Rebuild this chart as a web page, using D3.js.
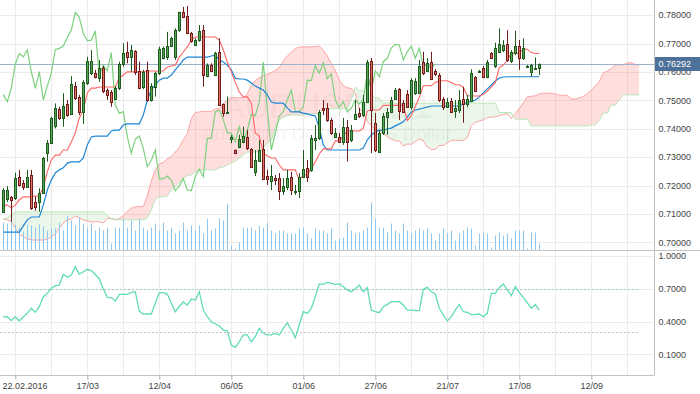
<!DOCTYPE html>
<html><head><meta charset="utf-8">
<script src="https://cdn.jsdelivr.net/npm/d3@7/dist/d3.min.js"></script>
<style>
html,body{margin:0;padding:0;background:#fff;}
svg{display:block;}
</style></head><body>
<svg id="chart" width="700" height="394"></svg>
<script>
// ---------- DATA (AUDUSD, D1) ----------
const opens=[.7108,.7152,.7159,.7155,.7231,.7208,.7196,.7237,.7143,.7141,
.7175,.7313,.7351,.7409,.7468,.7437,.7486,.7451,.7550,.7510,
.7460,.7560,.7595,.7597,.7577,.7615,.7536,.7530,.7503,.7542,
.7628,.7671,.7653,.7675,.7604,.7546,.7607,.7501,.7548,.7595,
.7648,.7651,.7691,.7651,.7747,.7812,.7797,.7736,.7695,.7712,
.7747,.7585,.7624,.7589,.7671,.7486,.7454,.7363,.7325,.7335,
.7354,.7371,.7327,.7246,.7286,.7329,.7233,.7216,.7226,.7225,
.7182,.7196,.7230,.7176,.7182,.7231,.7261,.7255,.7360,.7366,
.7472,.7472,.7431,.7372,.7372,.7354,.7407,.7360,.7433,.7454,
.7448,.7495,.7638,.7419,.7319,.7384,.7442,.7459,.7503,.7539,
.7491,.7521,.7477,.7525,.7527,.7636,.7603,.7636,.7603,.7589,
.7503,.7477,.7498,.7463,.7466,.7503,.7487,.7499,.7581,.7601,
.7613,.7583,.7668,.7621,.7671,.7677,.7697,.7638,.7665,.7692,
.7648,.7616,.7601,.7610,.7613];
const highs=[.7191,.7198,.7163,.7245,.7255,.7219,.7255,.7255,.7161,.7190,
.7301,.7360,.7442,.7489,.7477,.7525,.7501,.7585,.7565,.7519,
.7571,.7653,.7677,.7607,.7642,.7621,.7542,.7536,.7550,.7636,
.7701,.7706,.7695,.7677,.7636,.7607,.7636,.7560,.7601,.7689,
.7689,.7741,.7724,.7753,.7812,.7829,.7832,.7741,.7718,.7765,
.7765,.7630,.7630,.7671,.7718,.7489,.7513,.7378,.7327,.7378,
.7407,.7395,.7332,.7325,.7360,.7360,.7255,.7272,.7237,.7244,
.7226,.7255,.7248,.7202,.7244,.7325,.7290,.7378,.7413,.7466,
.7501,.7490,.7438,.7402,.7385,.7438,.7431,.7413,.7501,.7473,
.7519,.7642,.7649,.7455,.7395,.7455,.7473,.7512,.7543,.7543,
.7501,.7536,.7578,.7578,.7642,.7671,.7649,.7671,.7610,.7596,
.7512,.7508,.7508,.7501,.7536,.7547,.7519,.7609,.7585,.7607,
.7621,.7642,.7670,.7703,.7753,.7712,.7747,.7677,.7745,.7712,
.7718,.7624,.7628,.7651,.7630];
const lows=[.7103,.7142,.7073,.7149,.7196,.7184,.7191,.7114,.7111,.7108,
.7170,.7284,.7346,.7401,.7431,.7407,.7442,.7448,.7501,.7448,
.7417,.7554,.7589,.7577,.7565,.7525,.7501,.7477,.7501,.7536,
.7618,.7630,.7601,.7589,.7539,.7539,.7495,.7495,.7513,.7589,
.7644,.7642,.7689,.7642,.7741,.7789,.7733,.7703,.7691,.7706,
.7548,.7581,.7600,.7585,.7480,.7442,.7452,.7349,.7310,.7331,
.7349,.7325,.7262,.7233,.7283,.7219,.7202,.7184,.7202,.7149,
.7167,.7184,.7167,.7167,.7156,.7226,.7212,.7248,.7325,.7360,
.7448,.7424,.7378,.7367,.7350,.7343,.7284,.7353,.7431,.7438,
.7441,.7490,.7314,.7318,.7314,.7378,.7378,.7455,.7501,.7431,
.7455,.7473,.7466,.7519,.7526,.7589,.7600,.7571,.7585,.7494,
.7466,.7473,.7455,.7438,.7455,.7421,.7476,.7495,.7529,.7600,
.7578,.7578,.7645,.7614,.7666,.7670,.7635,.7631,.7659,.7607,
.7642,.7614,.7583,.7607,.7589];
const closes=[.7184,.7184,.7149,.7225,.7202,.7194,.7231,.7120,.7125,.7173,
.7296,.7351,.7437,.7472,.7437,.7481,.7448,.7557,.7507,.7460,
.7565,.7638,.7638,.7581,.7613,.7534,.7520,.7495,.7544,.7627,
.7665,.7653,.7677,.7601,.7542,.7601,.7501,.7550,.7595,.7679,
.7683,.7691,.7720,.7747,.7810,.7792,.7736,.7710,.7712,.7744,
.7589,.7624,.7604,.7668,.7483,.7454,.7460,.7372,.7313,.7363,
.7374,.7331,.7266,.7289,.7325,.7223,.7224,.7233,.7219,.7182,
.7198,.7225,.7184,.7182,.7231,.7258,.7231,.7366,.7366,.7460,
.7466,.7431,.7385,.7384,.7354,.7407,.7354,.7395,.7451,.7446,
.7495,.7635,.7466,.7325,.7384,.7445,.7460,.7501,.7536,.7462,
.7460,.7477,.7571,.7569,.7622,.7595,.7632,.7576,.7593,.7501,
.7475,.7495,.7460,.7472,.7501,.7487,.7503,.7597,.7534,.7604,
.7583,.7636,.7648,.7684,.7697,.7695,.7642,.7671,.7691,.7648,
.7683,.7622,.7624,.7613,.7629];
const volumes=[28000,27000,30000,26000,23000,19000,26000,25000,23000,26000,24000,20000,22000,22000,28000,20000,35000,30000,25000,33000,27000,23000,27000,
20000,23000,20000,23000,7000,23000,23000,32000,23000,30000,20000,32000,23000,20000,23000,27000,20000,28000,20000,23000,17000,20000,
28000,20000,25000,20000,25000,17000,32000,20000,22000,32000,30000,47000,5000,2000,8000,23000,23000,23000,20000,25000,23000,28000,20000,
17000,20000,20000,17000,17000,17000,22000,23000,17000,12000,22000,20000,20000,17000,22000,10000,12000,13000,28000,20000,17000,18000,20000,23000,48000,32000,23000,23000,18000,27000,20000,17000,27000,20000,17000,20000,22000,20000,22000,17000,10000,17000,22000,17000,20000,10000,17000,20000,23000,
22000,5000,17000,18000,17000,3000,15000,18000,15000,17000,12000,20000,20000,20000,2000,18000,18000,7000];
const tenkan=[.7131,.7131,.7121,.7131,.7149,.7160,.7160,.7160,.7163,.7163,
.7195,.7248,.7290,.7307,.7307,.7325,.7325,.7353,.7385,.7438,
.7466,.7526,.7543,.7543,.7547,.7547,.7547,.7547,.7547,.7578,
.7589,.7600,.7600,.7600,.7600,.7600,.7603,.7603,.7603,.7603,
.7603,.7617,.7621,.7624,.7652,.7670,.7688,.7712,.7723,.7723,
.7723,.7723,.7723,.7723,.7712,.7677,.7635,.7600,.7564,.7529,
.7512,.7512,.7490,.7385,.7374,.7314,.7304,.7297,.7297,.7272,
.7255,.7255,.7255,.7255,.7219,.7237,.7237,.7262,.7283,.7311,
.7329,.7329,.7329,.7357,.7357,.7374,.7392,.7392,.7392,.7392,
.7402,.7462,.7466,.7466,.7466,.7482,.7482,.7482,.7482,.7482,
.7482,.7429,.7446,.7478,.7510,.7551,.7551,.7551,.7563,.7569,
.7569,.7569,.7563,.7555,.7555,.7546,.7516,.7515,.7515,.7515,
.7521,.7532,.7546,.7562,.7615,.7624,.7641,.7666,.7666,.7666,
.7680,.7680,.7668,.7665,.7665];
const kijun=[.7036,.7036,.7036,.7036,.7036,.7058,.7079,.7089,.7089,.7089,
.7131,.7184,.7219,.7244,.7255,.7262,.7279,.7283,.7283,.7283,
.7297,.7343,.7371,.7374,.7374,.7374,.7374,.7392,.7395,.7395,
.7413,.7417,.7417,.7417,.7417,.7448,.7501,.7536,.7554,.7571,
.7578,.7578,.7589,.7607,.7624,.7642,.7652,.7652,.7652,.7652,
.7652,.7652,.7656,.7659,.7642,.7635,.7624,.7607,.7578,.7575,
.7575,.7571,.7561,.7550,.7543,.7536,.7519,.7494,.7490,.7490,
.7490,.7473,.7459,.7459,.7459,.7455,.7452,.7448,.7445,.7402,
.7343,.7325,.7325,.7325,.7325,.7325,.7325,.7325,.7325,.7325,
.7332,.7360,.7378,.7388,.7395,.7395,.7399,.7402,.7410,.7417,
.7424,.7441,.7459,.7466,.7469,.7473,.7476,.7480,.7480,.7480,
.7480,.7480,.7480,.7480,.7480,.7487,.7494,.7495,.7501,.7512,
.7526,.7540,.7554,.7568,.7578,.7582,.7583,.7583,.7583,.7583,
.7583,.7583,.7583,.7583,.7583];
// Senkou spans, already displaced 26 bars forward (index 0 = first candle)
const spanA=[.7082,.7079,.7072,.7050,.7029,.7019,.7012,.7008,.7008,.7008,.7008,.7012,.7019,.7029,.7050,.7068,.7079,.7082,.7093,.7086,.7079,.7075,.7072,.7072,.7072,.7068,
.7084,.7084,.7079,.7084,.7093,.7109,.7120,.7125,.7126,.7126,
.7163,.7216,.7255,.7276,.7281,.7294,.7302,.7318,.7334,.7361,
.7382,.7435,.7457,.7459,.7461,.7461,.7461,.7470,.7471,.7487,
.7501,.7509,.7509,.7509,.7509,.7524,.7552,.7570,.7579,.7587,
.7591,.7598,.7605,.7616,.7638,.7656,.7670,.7682,.7688,.7688,
.7688,.7688,.7690,.7691,.7677,.7656,.7630,.7604,.7571,.7552,
.7544,.7542,.7526,.7468,.7459,.7425,.7412,.7396,.7394,.7381,
.7373,.7364,.7357,.7357,.7339,.7346,.7345,.7355,.7364,.7357,
.7336,.7327,.7327,.7341,.7341,.7350,.7359,.7359,.7359,.7359,
.7367,.7411,.7422,.7427,.7431,.7439,.7441,.7442,.7446,.7450,
.7453,.7435,.7453,.7472,.7490,.7512,.7514,.7516,.7522,.7525,
.7525,.7525,.7522,.7518,.7518,.7517,.7505,.7505,.7508,.7514,
.7524,.7536,.7550,.7565,.7597,.7603,.7612,.7625,.7625,.7625,
.7632,.7632,.7626,.7624];
const spanB=[.7082,.7086,.7096,.7107,.7107,.7107,.7107,.7107,.7107,.7107,.7107,.7107,.7107,.7107,.7107,.7107,.7107,.7107,.7107,.7107,.7107,.7107,.7107,.7107,.7107,.7107,
.7093,.7082,.7082,.7079,.7079,.7079,.7079,.7079,.7079,.7079,.7086,.7114,.7153,.7160,.7160,.7163,.7184,.7195,.7209,.7226,.7234,.7237,.7248,.7255,.7255,.7255,.7255,.7255,.7262,.7265,.7272,.7279,.7286,.7297,.7307,.7318,.7318,.7318,.7318,.7332,.7350,.7360,.7402,.7431,.7441,.7445,.7448,.7448,.7448,.7448,.7452,
.7452,.7452,.7452,.7470,.7470,.7470,.7470,.7470,.7470,.7470,.7501,.7547,.7533,.7533,.7526,.7517,.7508,.7508,
.7490,.7490,.7490,.7490,.7490,.7490,.7490,.7490,.7490,.7490,.7490,.7490,.7490,.7490,.7490,.7490,.7490,.7490,.7490,.7490,.7490,.7490,.7490,.7490,.7490,.7490,.7490,.7490,.7490,
.7457,.7457,.7457,.7457,.7433,.7433,.7433,.7433,
.7410,.7410,.7410,.7410,.7410,.7410,.7410,.7410,.7410,.7410,.7410,.7410,.7410,.7410,.7410,
.7413,.7413,.7429,.7455,.7455,.7483,.7483,.7500,.7519,.7519,.7519,.7519,.7519];
const oscillator=[0.444,0.444,0.408,0.444,0.405,0.444,0.475,0.521,0.484,0.536,
0.627,0.658,0.704,0.728,0.734,0.832,0.805,0.826,0.902,0.835,
0.856,0.878,0.866,0.830,0.790,0.700,0.622,0.619,0.588,0.649,
0.649,0.649,0.667,0.673,0.496,0.469,0.469,0.469,0.567,0.664,
0.664,0.652,0.567,0.490,0.540,0.579,0.551,0.606,0.597,0.673,
0.505,0.444,0.398,0.380,0.359,0.322,0.316,0.185,0.164,0.215,
0.277,0.277,0.215,0.261,0.338,0.292,0.277,0.277,0.292,0.277,
0.338,0.389,0.322,0.252,0.368,0.490,0.475,0.521,0.628,0.744,
0.741,0.759,0.750,0.741,0.744,0.719,0.689,0.673,0.700,0.734,
0.673,0.710,0.505,0.490,0.481,0.536,0.557,0.582,0.582,0.582,
0.551,0.505,0.505,0.499,0.499,0.695,0.713,0.673,0.652,0.521,
0.460,0.405,0.444,0.505,0.557,0.490,0.484,0.463,0.463,0.469,
0.444,0.475,0.658,0.658,0.710,0.744,0.689,0.636,0.719,0.664,
0.622,0.572,0.521,0.557,0.505];
const chikouShift=26;
const tickIndex=[3,21,39,57,75,93,111,129,147];
const tickLabels=["22.02.2016","17/03","12/04","06/05","01/06","27/06","21/07","17/08","12/09"];
const priceTicks=[0.70,0.71,0.72,0.73,0.74,0.75,0.76,0.77,0.78];
const oscTicks=[1.0,0.7,0.4,0.1];
const oscLevels=[0.7,0.3];
const lastPrice=0.76292;
const symbol="AUDUSD, D1", description="Australian Dollar vs US Dollar";

// ---------- DRAW ----------
const FONT='"Liberation Sans", Arial, sans-serif';
const svg=d3.select('#chart');
const PR=654;
const x=d3.scaleLinear().domain([0,1]).range([3.3,7.3]);
const y=d3.scaleLinear().domain([0.70,0.78]).range([242.3,15.1]);
const yo=d3.scaleLinear().domain([0.1,1.0]).range([354.3,256]);
const yv=d3.scaleLinear().domain([0,50000]).range([250.5,200.5]);
const snap=v=>Math.round(v)+0.5;

svg.append('rect').attr('width',700).attr('height',394).attr('fill','#fff');
const defs=svg.append('defs');
defs.append('clipPath').attr('id','clipMain').append('rect').attr('x',0).attr('y',0).attr('width',PR).attr('height',250.5);
defs.append('clipPath').attr('id','clipOsc').append('rect').attr('x',0).attr('y',251).attr('width',PR).attr('height',124.5);

// grid
const grid=svg.append('g').attr('stroke','#ebebeb').attr('stroke-width',1);
d3.range(3,170,9).forEach(i=>{const gx=snap(x(i)); if(gx<PR) grid.append('line').attr('x1',gx).attr('x2',gx).attr('y1',0).attr('y2',375.5);});
priceTicks.forEach(p=>grid.append('line').attr('x1',0).attr('x2',PR).attr('y1',snap(y(p))).attr('y2',snap(y(p))));
oscTicks.forEach(v=>grid.append('line').attr('x1',0).attr('x2',PR).attr('y1',snap(yo(v))).attr('y2',snap(yo(v))));

// watermark
svg.append('text').attr('x',327).attr('y',118).attr('text-anchor','middle').attr('font-family',FONT).attr('font-size',35)
  .attr('fill','#000').attr('fill-opacity',0.055).text(symbol);
svg.append('text').attr('x',327).attr('y',140).attr('text-anchor','middle').attr('font-family',FONT).attr('font-size',19)
  .attr('fill','#000').attr('fill-opacity',0.055).text(description);

const main=svg.append('g').attr('clip-path','url(#clipMain)');

// cloud
const cj=d3.range(spanA.length);
defs.append('clipPath').attr('id','cAbove').append('path').attr('d',d3.area().x(j=>x(j)).y0(0).y1(j=>y(spanB[j]))(cj));
defs.append('clipPath').attr('id','cBelow').append('path').attr('d',d3.area().x(j=>x(j)).y0(260).y1(j=>y(spanB[j]))(cj));
const band=d3.area().x(j=>x(j)).y0(j=>y(spanA[j])).y1(j=>y(spanB[j]));
main.append('path').attr('d',band(cj)).attr('fill','#ff5a5a').attr('fill-opacity',0.2).attr('clip-path','url(#cAbove)');
main.append('path').attr('d',band(cj)).attr('fill','#3cb43c').attr('fill-opacity',0.11).attr('clip-path','url(#cBelow)');
const lineY=d3.line().x((d,i)=>x(i)).y(d=>y(d));
main.append('path').attr('d',lineY(spanA)).attr('fill','none').attr('stroke','#ffa3a3').attr('stroke-width',1);
main.append('path').attr('d',lineY(spanB)).attr('fill','none').attr('stroke','#b8e6b8').attr('stroke-width',1);

// volumes
volumes.forEach((v,i)=>main.append('line').attr('x1',snap(x(i))).attr('x2',snap(x(i)))
  .attr('y1',yv(0)).attr('y2',yv(v)).attr('stroke','#8ec6ef').attr('stroke-width',1));

// current price line
main.append('line').attr('x1',0).attr('x2',PR).attr('y1',snap(y(lastPrice))).attr('y2',snap(y(lastPrice))).attr('stroke','#9cb2cb');

// chikou, kijun, tenkan
main.append('path').attr('d',lineY(closes.slice(chikouShift))).attr('fill','none').attr('stroke','#7dd07d').attr('stroke-width',1.2);
main.append('path').attr('d',lineY(kijun)).attr('fill','none').attr('stroke','#1d86d6').attr('stroke-width',1.2);
main.append('path').attr('d',lineY(tenkan)).attr('fill','none').attr('stroke','#ff6666').attr('stroke-width',1.1);

// candles
closes.forEach((c,i)=>{
  const o=opens[i], up=c>=o;
  const dark=up?'#1f5a1f':'#6e1c1c', fill=up?'#52a552':'#e2705f';
  const cx=Math.round(x(i));
  main.append('line').attr('x1',cx+0.5).attr('x2',cx+0.5).attr('y1',y(highs[i])).attr('y2',y(lows[i])).attr('stroke',dark);
  const top=Math.round(y(Math.max(o,c))), bot=Math.round(y(Math.min(o,c)));
  main.append('rect').attr('x',cx-0.5).attr('y',top+0.5).attr('width',2).attr('height',Math.max(1,bot-top))
    .attr('fill',fill).attr('stroke',dark).attr('stroke-width',1);
});

// oscillator
const osc=svg.append('g').attr('clip-path','url(#clipOsc)');
oscLevels.forEach((v,k)=>osc.append('line').attr('x1',0).attr('x2',640).attr('y1',snap(yo(v))).attr('y2',snap(yo(v)))
  .attr('stroke',k===0?'#9fc9bd':'#c4c4c4').attr('stroke-dasharray','2,2'));
osc.append('path').attr('d',d3.line().x((d,i)=>x(i)).y(d=>yo(d))(oscillator)).attr('fill','none')
  .attr('stroke','#62dbba').attr('stroke-width',1.3);

// frame
svg.append('line').attr('x1',0).attr('x2',700).attr('y1',250.5).attr('y2',250.5).attr('stroke','#c2c2c2');
svg.append('line').attr('x1',0).attr('x2',PR+0.5).attr('y1',375.5).attr('y2',375.5).attr('stroke','#c2c2c2');
svg.append('line').attr('x1',PR+0.5).attr('x2',PR+0.5).attr('y1',0).attr('y2',375.5).attr('stroke','#c2c2c2');

// axes
const axR=svg.append('g').attr('transform',`translate(${PR+0.5},0)`)
  .call(d3.axisRight(y).tickValues(priceTicks).tickFormat(d3.format('.5f')).tickSize(0).tickPadding(4));
axR.select('.domain').remove();
axR.attr('font-family',FONT).attr('font-size',9);
axR.selectAll('text').attr('fill','#444');
const axO=svg.append('g').attr('transform',`translate(${PR+0.5},0)`)
  .call(d3.axisRight(yo).tickValues(oscTicks).tickFormat(d3.format('.4f')).tickSize(0).tickPadding(4));
axO.select('.domain').remove();
axO.attr('font-family',FONT).attr('font-size',9);
axO.selectAll('text').attr('fill','#444');

// price label
const py=y(lastPrice);
svg.append('rect').attr('x',PR+1).attr('y',Math.round(py)-7).attr('width',700-PR-1).attr('height',14).attr('fill','#4d7199');
svg.append('text').attr('x',PR+4.5).attr('y',py).attr('dy','0.34em').attr('font-family',FONT).attr('font-size',9)
  .attr('fill','#fff').text(d3.format('.5f')(lastPrice));

const axB=svg.append('g').attr('transform','translate(0,375.5)')
  .call(d3.axisBottom(x).tickValues(tickIndex).tickFormat((d,k)=>tickLabels[k]).tickSize(4).tickPadding(3));
axB.select('.domain').remove();
axB.attr('font-family',FONT).attr('font-size',9);
axB.selectAll('line').attr('stroke','#aaa');
axB.selectAll('text').attr('fill','#444');
axB.selectAll('.tick').filter((d,k)=>k===0).select('text').attr('text-anchor','start').attr('x',2-x(tickIndex[0]));
</script>
</body></html>
